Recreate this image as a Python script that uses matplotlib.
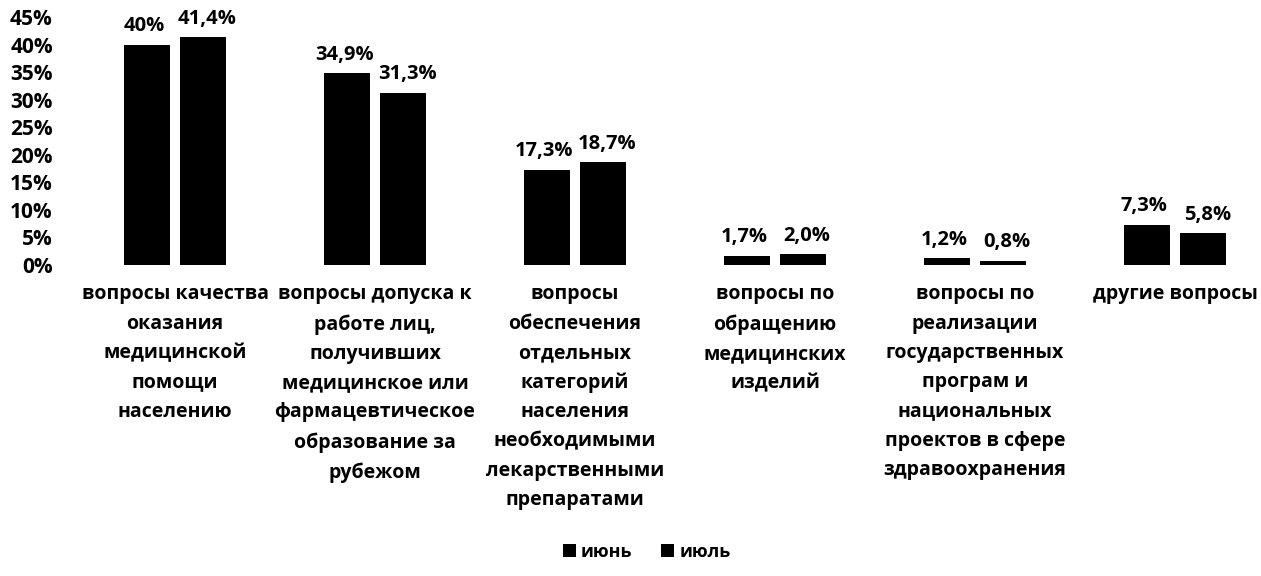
import matplotlib
matplotlib.use("Agg")
import matplotlib.pyplot as plt
import numpy as np

categories = [
    "вопросы качества\nоказания\nмедицинской\nпомощи\nнаселению",
    "вопросы допуска к\nработе лиц,\nполучивших\nмедицинское или\nфармацевтическое\nобразование за\nрубежом",
    "вопросы\nобеспечения\nотдельных\nкатегорий\nнаселения\nнеобходимыми\nлекарственными\nпрепаратами",
    "вопросы по\nобращению\nмедицинских\nизделий",
    "вопросы по\nреализации\nгосударственных\nпрограм и\nнациональных\nпроектов в сфере\nздравоохранения",
    "другие вопросы",
]
june = [40.0, 34.9, 17.3, 1.7, 1.2, 7.3]
july = [41.4, 31.3, 18.7, 2.0, 0.8, 5.8]
june_labels = ["40%", "34,9%", "17,3%", "1,7%", "1,2%", "7,3%"]
july_labels = ["41,4%", "31,3%", "18,7%", "2,0%", "0,8%", "5,8%"]
series_names = ["июнь", "июль"]
yticks = [0, 5, 10, 15, 20, 25, 30, 35, 40, 45]

plt.rcParams['font.family'] = ['Open Sans', 'DejaVu Sans']

fig = plt.figure(figsize=(12.61, 5.76), dpi=100)
ax = fig.add_axes([0.0595, 0.540, 0.9405, 0.430])

x = np.arange(len(categories))
w = 0.23
off = 0.14
b1 = ax.bar(x - off, june, width=w, color='black', label=series_names[0])
b2 = ax.bar(x + off, july, width=w, color='black', label=series_names[1])

for xi, v, t in zip(x - off, june, june_labels):
    ax.annotate(t, (xi, v), xytext=(-2, 6), textcoords='offset points',
                ha='center', va='bottom', fontsize=14.5, fontweight='bold')
for xi, v, t in zip(x + off, july, july_labels):
    ax.annotate(t, (xi, v), xytext=(3, 6), textcoords='offset points',
                ha='center', va='bottom', fontsize=14.5, fontweight='bold')

ax.set_xlim(-0.5, 5.43)
ax.set_ylim(0, 45)
ax.set_yticks(yticks)
ax.set_yticklabels([f"{t}%" for t in yticks], fontsize=15, fontweight='bold')
ax.set_xticks(x)
ax.set_xticklabels(categories, fontsize=14, fontweight='bold', linespacing=1.62, va='top')
ax.tick_params(axis='both', length=0)
ax.tick_params(axis='x', pad=14)
ax.tick_params(axis='y', pad=16)
for s in ax.spines.values():
    s.set_visible(False)

leg = fig.legend(handles=[b1, b2], labels=series_names, loc='center',
                 bbox_to_anchor=(0.513, 0.042), ncol=2, frameon=False,
                 prop={'size': 13, 'weight': 'bold'}, handlelength=0.7,
                 handleheight=0.7, handletextpad=0.3, columnspacing=1.6)

fig.savefig("out.png", dpi=100, facecolor='white')
